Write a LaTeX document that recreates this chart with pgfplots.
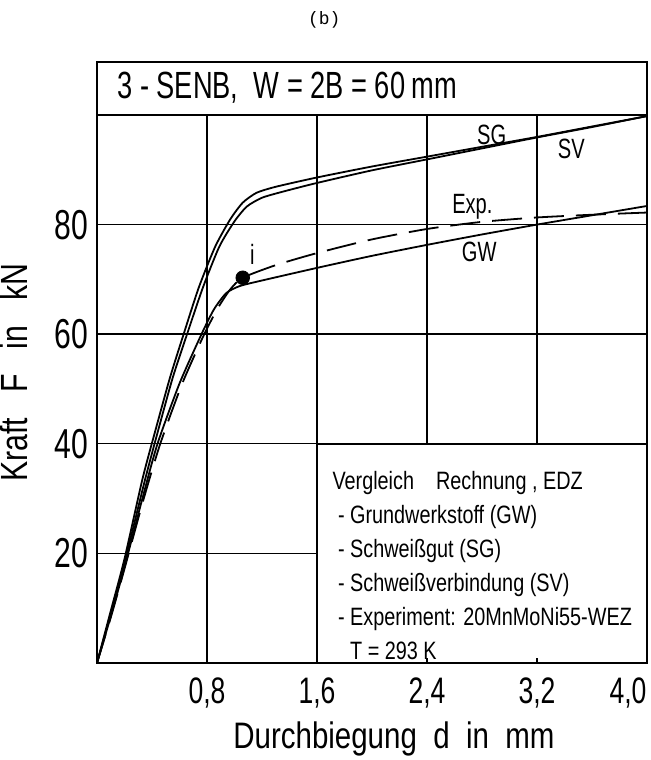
\documentclass[border=0pt]{standalone}
\usepackage{fontspec}
\setmainfont{Liberation Sans}[FakeStretch=0.72]
\newfontfamily\legfont{Liberation Sans}[FakeStretch=0.79]
\newfontfamily\labfont{Liberation Sans}[FakeStretch=0.8]
\newfontfamily\monofont{Liberation Mono}
\usepackage{pgfplots}
\pgfplotsset{compat=1.18}
\begin{document}
\begin{tikzpicture}
\path[use as bounding box] (-48.5bp,-48.5bp) rectangle (277bp,331.5bp);
\begin{axis}[
  at={(0,0)}, anchor=south west,
  scale only axis, width=275bp, height=274bp,
  xmin=0, xmax=4, ymin=0, ymax=100,
  xtick={0.8,1.6,2.4,3.2,4.0},
  xticklabels={{0,8},{1,6},{2,4},{3,2},{4,0\hspace*{19bp}}},
  ytick={20,40,60,80},
  yticklabels={20,40,60,80},
  grid=major,
  major grid style={black, line width=0.7bp},
  axis line style={black, line width=1.3bp},
  major tick length=0pt,
  xticklabel style={font=\fontsize{18.5}{18.5}\selectfont, anchor=north, yshift=-4bp},
  yticklabel style={font=\fontsize{21}{21}\selectfont, anchor=east, xshift=-1bp},
  xlabel={Durchbiegung\ \ d\ \ in\ \ mm},
  ylabel={Kraft\ \ \ F\ \ \ in\ \ \ kN},
  xlabel style={font=\labfont\fontsize{18.5}{18.5}\selectfont, at={(axis description cs:0.54,0)}, anchor=north, yshift=-26bp},
  ylabel style={font=\labfont\fontsize{19}{19}\selectfont, at={(axis description cs:0,0.53)}, anchor=south, yshift=31bp},
  clip=false,
]
% legend box covering grid
\draw[black, line width=0.9bp, fill=white] (axis cs:1.6,0) rectangle (axis cs:4,40);
\draw[black, line width=0.7bp] (axis cs:2.4,0) -- ++(0,2.5bp);
\draw[black, line width=0.7bp] (axis cs:3.2,0) -- ++(0,2.5bp);
\draw[black, line width=1.3bp] (axis cs:0,0) -- (axis cs:4,0);
% title box
\draw[black, line width=1.3bp] (rel axis cs:0,1) rectangle ([yshift=26.5bp]rel axis cs:1,1);
\node[anchor=west, font=\fontsize{19}{19}\selectfont, inner sep=0pt] at ([xshift=10bp,yshift=13.5bp]rel axis cs:0,1) {3 - SENB,\ \ W = 2B = 60\,mm};
\node[font=\monofont\fontsize{9}{9}\selectfont] at ([yshift=47.5bp]rel axis cs:0.413,1) {(b)};

% SG
\addplot[black, line width=0.9bp, smooth, tension=0.4] coordinates {
(0,0) (0.1,9.5) (0.2,19) (0.33,33.5) (0.42,42) (0.53,52) (0.63,60) (0.74,68.5) (0.86,76) (0.97,81) (1.06,84) (1.16,85.8) (1.3,86.9) (1.6,88.6) (2.0,90.6) (2.4,92.4) (2.8,94.2) (3.2,96.0) (3.6,97.9) (4.0,99.8)};
% SV
\addplot[black, line width=0.9bp, smooth, tension=0.4] coordinates {
(0,0) (0.1,9) (0.2,18.3) (0.35,33.5) (0.44,42) (0.55,52) (0.655,60) (0.77,68.5) (0.89,76) (1.0,80.6) (1.09,83.3) (1.2,84.9) (1.35,86) (1.6,87.6) (2.0,89.9) (2.4,91.9) (2.8,93.9) (3.2,95.9) (3.6,97.8) (4.0,99.8)};
% GW
\addplot[black, line width=0.9bp, smooth, tension=0.4] coordinates {
(0,0) (0.1,8.5) (0.2,17.5) (0.33,30) (0.44,40) (0.6,51) (0.76,60) (0.85,64.5) (0.94,67.5) (1.04,68.8) (1.2,69.8) (1.6,72.1) (2.0,74.3) (2.4,76.3) (2.8,78.2) (3.2,80.0) (3.6,81.7) (4.0,83.4)};
% Exp
\addplot[black, line width=0.9bp, dash pattern=on 15bp off 6bp, smooth, tension=0.4] coordinates {
(0,0) (0.1,8.3) (0.2,17.2) (0.34,30) (0.46,40) (0.62,51) (0.78,60) (0.88,64.8) (0.97,68.2) (1.06,70.3) (1.3,72.6) (1.6,74.8) (2.0,77.3) (2.4,79.2) (2.8,80.5) (3.2,81.3) (3.6,81.8) (4.0,82.2)};
% initiation point
\addplot[only marks, mark=*, mark size=3.4bp, black] coordinates {(1.06,70.3)};

\node[font=\fontsize{14}{14}\selectfont] at (axis cs:2.87,96.4) {SG};
\node[font=\fontsize{14}{14}\selectfont] at (axis cs:3.45,93.8) {SV};
\node[font=\fontsize{14}{14}\selectfont] at (axis cs:2.73,83.3) {Exp.};
\node[font=\fontsize{14}{14}\selectfont] at (axis cs:2.78,75.0) {GW};
\node[font=\fontsize{14}{14}\selectfont] at (axis cs:1.13,74.6) {i};

\node[anchor=north west, align=left, inner sep=0pt, font=\legfont\fontsize{12.6}{17}\selectfont] at (axis cs:1.71,35.0) {%
Vergleich\ \ \ \ Rechnung , EDZ\\
\ - Grundwerkstoff (GW)\\
\ - Schweißgut (SG)\\
\ - Schweißverbindung (SV)\\
\ - Experiment: 20MnMoNi55-WEZ\\
\ \phantom{- }T = 293 K};
\end{axis}
\end{tikzpicture}
\end{document}
